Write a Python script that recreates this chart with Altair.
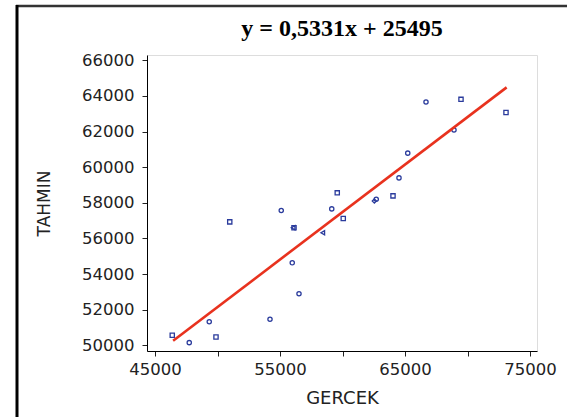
import altair as alt
import pandas as pd

# Data
gercek = [46380, 47740, 49340, 49880, 50980, 54200, 55100, 55980, 56120, 56050,
          56520, 58420, 59140, 59580, 60060, 62550, 62700, 64040, 64520, 65220,
          66680, 68920, 69480, 73080]
tahmin = [50560, 50150, 51320, 50470, 56930, 51460, 57570, 54630, 56600, 56600,
          52890, 56320, 57660, 58560, 57120, 58100, 58200, 58390, 59400, 60790,
          63660, 62090, 63810, 63070]
shapes = ["square", "circle", "circle", "square", "square", "circle", "circle", "circle", "square", "triangle-left",
          "circle", "triangle-left", "circle", "square", "square", "diamond", "circle", "square", "circle", "circle",
          "circle", "circle", "square", "square"]

slope = 0.5331
intercept = 25495
line_x = [46450, 73130]
title_text = ["y = 0,5331x + 25495"]

x_ticks = [45000, 50000, 55000, 60000, 65000, 70000, 75000]
y_ticks = [50000, 52000, 54000, 56000, 58000, 60000, 62000, 64000, 66000]

pts = pd.DataFrame({"GERCEK": gercek, "TAHMIN": tahmin, "shape": shapes})
ln = pd.DataFrame({"GERCEK": line_x})

xscale = alt.Scale(domain=[44360, 75560], nice=False, zero=False)
yscale = alt.Scale(domain=[49680, 66300], nice=False, zero=False)

xaxis = alt.Axis(values=x_ticks, labelExpr="datum.value % 10000 == 5000 ? format(datum.value, 'd') : ''",
                 grid=False, tickSize=5, tickColor="#222", domainColor="#000", labelOverlap=False,
                 labelFont="DejaVu Sans", labelFontSize=16.5, labelColor="#222", labelPadding=5,
                 title="GERCEK", titleFont="DejaVu Sans", titleFontSize=18, titleFontWeight="normal",
                 titleColor="#222", titlePadding=12)
yaxis = alt.Axis(values=y_ticks, format="d", grid=False, tickSize=5, tickColor="#222", domainColor="#000",
                 labelOverlap=False,
                 labelFont="DejaVu Sans", labelFontSize=16.5, labelColor="#222", labelPadding=8,
                 title="TAHMIN", titleFont="DejaVu Sans", titleFontSize=17, titleFontWeight="normal",
                 titleColor="#222", titlePadding=28)

X = alt.X("GERCEK:Q", scale=xscale, axis=xaxis)
Y = alt.Y("TAHMIN:Q", scale=yscale, axis=yaxis)

points = alt.Chart(pts).mark_point(filled=False, size=18, strokeWidth=1.3, color="#2a3b9c", opacity=1).encode(
    x=X, y=Y,
    shape=alt.Shape("shape:N", scale=None),
)

fit = alt.Chart(ln).transform_calculate(
    TAHMIN=f"{slope} * datum.GERCEK + {intercept}"
).mark_line(color="#e8321e", strokeWidth=2.6).encode(x=X, y=Y)

title = alt.Chart(pd.DataFrame({"t": title_text})).mark_text(
    font="Liberation Serif", fontSize=24, fontWeight="bold", color="#000",
    align="center", baseline="alphabetic"
).encode(text="t:N", x=alt.value(195), y=alt.value(-19))

frame_top = alt.Chart(pd.DataFrame({"a": [0]})).mark_rule(color="#333", strokeWidth=2.5).encode(
    x=alt.value(-131), x2=alt.value(430), y=alt.value(-49)
)
frame_left = alt.Chart(pd.DataFrame({"a": [0]})).mark_rule(color="#000", strokeWidth=3).encode(
    x=alt.value(-130), y=alt.value(-50), y2=alt.value(362)
)

chart = alt.layer(points, fit, title, frame_top, frame_left).properties(
    width=390, height=296,
    autosize=alt.AutoSizeParams(type="none"),
    padding={"left": 147, "top": 55, "right": 30, "bottom": 66},
).configure_view(stroke="#000", strokeWidth=1.2).configure(background="white")

chart.save("out.html", embed_options={"renderer": "svg", "actions": False})
